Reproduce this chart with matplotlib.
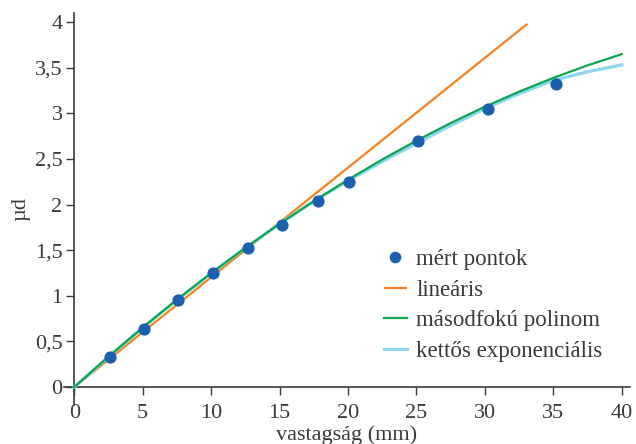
import matplotlib
matplotlib.use("Agg")
import matplotlib.pyplot as plt

# measured points
x_points = [2.6, 5.1, 7.6, 10.1, 12.7, 15.2, 17.8, 20.05, 25.1, 30.2, 35.2]
y_points = [0.33, 0.64, 0.95, 1.25, 1.52, 1.78, 2.04, 2.25, 2.70, 3.05, 3.32]

# linear trend (read end points)
x_lin = [0, 33.1]
y_lin = [0, 3.98]

# curves
x_curve = [0, 2.5, 5, 7.5, 10, 12.5, 15, 17.5, 20, 22.5, 25, 27.5, 30, 32.5, 35, 37.5, 40]
y_quad = [0, 0.333, 0.652, 0.957, 1.248, 1.525, 1.788, 2.037, 2.272, 2.493, 2.700, 2.893, 3.072, 3.237, 3.388, 3.525, 3.648]
y_dexp = [0, 0.33, 0.65, 0.955, 1.245, 1.525, 1.79, 2.035, 2.26, 2.47, 2.67, 2.865, 3.05, 3.215, 3.36, 3.455, 3.53]

x_ticks = [0, 5, 10, 15, 20, 25, 30, 35, 40]
x_ticklabels = ["0", "5", "10", "15", "20", "25", "30", "35", "40"]
y_ticks = [0, 0.5, 1, 1.5, 2, 2.5, 3, 3.5, 4]
y_ticklabels = ["0", "0,5", "1", "1,5", "2", "2,5", "3", "3,5", "4"]

labels = ["mért pontok", "lineáris", "másodfokú polinom", "kettős exponenciális"]

plt.rcParams['font.family'] = ['Liberation Serif', 'DejaVu Serif']
text_color = "#3a3a3a"
spine_color = "#3a3a3a"
fs = 16

fig = plt.figure(figsize=(6.36, 4.44), dpi=100)
ax = fig.add_axes([64 / 636, (444 - 405.3) / 444, 566 / 636, 392.4 / 444])

l_lin, = ax.plot(x_lin, y_lin, color="#f5821f", lw=1.6, zorder=2, solid_capstyle='butt')
l_dexp, = ax.plot(x_curve, y_dexp, color="#8ed6f4", lw=2.3, zorder=3)
l_quad, = ax.plot(x_curve, y_quad, color="#0aa650", lw=1.6, zorder=4)
pts, = ax.plot(x_points, y_points, 'o', color="#1b5fae", ms=8.8, mec="none", zorder=5)

ax.set_xlim(-0.75, 40.6)
ax.set_ylim(-0.2, 4.1)
ax.spines['left'].set_position(('data', 0))
ax.spines['bottom'].set_position(('data', 0))
for s in ['top', 'right']:
    ax.spines[s].set_visible(False)
for s in ['left', 'bottom']:
    ax.spines[s].set_color(spine_color)
    ax.spines[s].set_linewidth(1.2)

ax.set_xticks(x_ticks)
ax.set_xticklabels(x_ticklabels)
ax.set_yticks(y_ticks)
ax.set_yticklabels(y_ticklabels)
ax.tick_params(axis='both', direction='out', length=5.5, width=1.0, color=spine_color,
               labelsize=fs, labelcolor=text_color)
ax.tick_params(axis='x', pad=7)
ax.tick_params(axis='y', pad=3)

ax.set_xlabel("vastagság (mm)", fontsize=fs, color=text_color, labelpad=1)
ax.set_ylabel("µd", fontsize=fs, color=text_color, labelpad=3)

leg = fig.legend([pts, l_lin, l_quad, l_dexp], labels, loc='upper left',
                 bbox_to_anchor=(384 / 636, (444 - 249) / 444), frameon=False,
                 fontsize=16.5, handlelength=1.0, handletextpad=0.4, labelspacing=0.42,
                 borderpad=0, borderaxespad=0, markerscale=0.95)
for t in leg.get_texts():
    t.set_color(text_color)

fig.savefig("out.png", dpi=100)
